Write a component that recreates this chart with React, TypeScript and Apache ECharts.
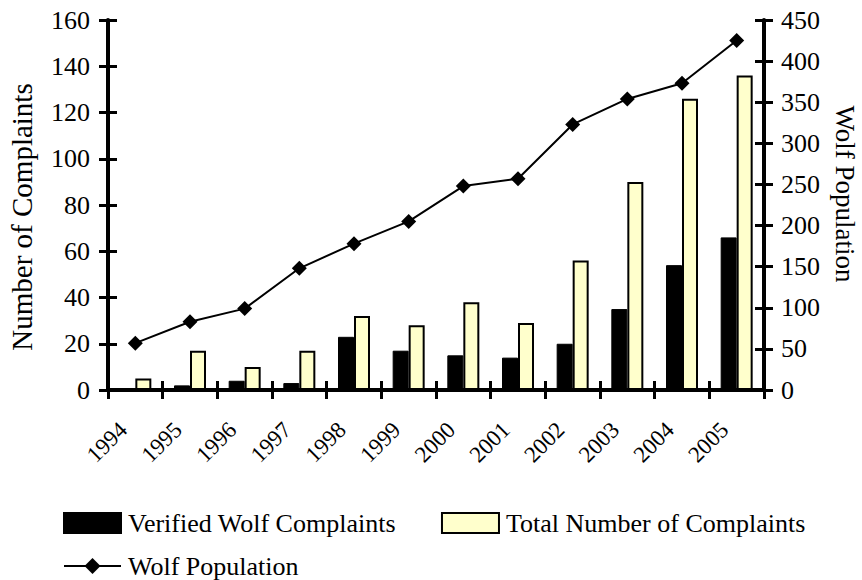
import React, { useEffect, useRef } from "react";
import * as echarts from "echarts";

const years = ["1994","1995","1996","1997","1998","1999","2000","2001","2002","2003","2004","2005"];
const verified = [0, 2, 4, 3, 23, 17, 15, 14, 20, 35, 54, 66];
const total = [5, 17, 10, 17, 32, 28, 38, 29, 56, 90, 126, 136];
const wolfPop = [57, 83, 99, 148, 178, 205, 248, 257, 323, 354, 373, 425];

const FONT = "'Liberation Serif', 'Times New Roman', serif";

export default function App() {
  const ref = useRef<HTMLDivElement>(null);
  useEffect(() => {
    if (!ref.current) return;
    const chart = echarts.init(ref.current, null, { renderer: "svg" });
    const txt = { color: "#000", fontFamily: FONT, fontSize: 25 };
    const line = { show: true, lineStyle: { color: "#000", width: 4 } };
    const tickOut = { show: true, inside: false, length: 9, lineStyle: { color: "#000", width: 3 } };
    const tickIn = { show: true, inside: true, length: 9, lineStyle: { color: "#000", width: 3 } };
    chart.setOption({
      animation: false,
      backgroundColor: "#fff",
      grid: { left: 108, right: 98, top: 20, bottom: 190, containLabel: false, outerBoundsMode: "none" },
      legend: [
        {
          data: ["Verified Wolf Complaints", "Total Number of Complaints"],
          left: 58, top: 505, itemWidth: 57, itemHeight: 20, itemGap: 45,
          textStyle: { ...txt, fontSize: 26, padding: [0, 0, 0, 2] },
          icon: "rect",
        },
        {
          data: ["Wolf Population"],
          left: 58, top: 548, itemWidth: 57, itemHeight: 20,
          textStyle: { ...txt, fontSize: 26, padding: [0, 0, 0, 2] },
        },
      ],
      xAxis: [
        {
          type: "category", data: years, position: "bottom",
          axisLine: line, axisTick: tickOut,
          axisLabel: { ...txt, fontSize: 23, rotate: 45, margin: 24, interval: 0, padding: [0, 17, 0, 0] },
          splitLine: { show: false },
        },
        {
          type: "category", data: years, position: "bottom",
          axisLine: { show: false }, axisTick: tickIn,
          axisLabel: { show: false }, splitLine: { show: false },
        },
      ],
      yAxis: [
        {
          type: "value", min: 0, max: 160, interval: 20, position: "left",
          axisLine: line, axisTick: tickOut, splitLine: { show: false },
          axisLabel: { ...txt, fontSize: 26, margin: 18 },
          name: "Number of Complaints", nameLocation: "middle", nameGap: 72,
          nameRotate: 90, nameTextStyle: { ...txt, fontSize: 29, padding: [0, 24, 0, 0] },
        },
        {
          type: "value", min: 0, max: 450, interval: 50, position: "right",
          axisLine: line, axisTick: tickOut, splitLine: { show: false },
          axisLabel: { ...txt, fontSize: 26, margin: 17 },
          name: "Wolf Population", nameLocation: "middle", nameGap: 67,
          nameRotate: -90, nameTextStyle: { ...txt, fontSize: 27, padding: [0, 22, 0, 0] },
        },
        {
          type: "value", min: 0, max: 160, interval: 20, position: "left",
          axisLine: { show: false }, axisTick: tickIn, splitLine: { show: false },
          axisLabel: { show: false },
        },
        {
          type: "value", min: 0, max: 450, interval: 50, position: "right",
          axisLine: { show: false }, axisTick: tickIn, splitLine: { show: false },
          axisLabel: { show: false },
        },
      ],
      series: [
        {
          name: "Verified Wolf Complaints", type: "bar", data: verified,
          barWidth: 16, barGap: "0%",
          itemStyle: { color: "#000", borderColor: "#000", borderWidth: 1 },
        },
        {
          name: "Total Number of Complaints", type: "bar", data: total,
          barWidth: 16, barGap: "0%",
          itemStyle: { color: "#FFFFCC", borderColor: "#000", borderWidth: 2 },
        },
        {
          name: "Wolf Population", type: "line", yAxisIndex: 1, data: wolfPop,
          symbol: "diamond", symbolSize: 15,
          lineStyle: { color: "#000", width: 2 },
          itemStyle: { color: "#000" },
        },
      ],
    });
    return () => chart.dispose();
  }, []);
  return <div ref={ref} style={{ width: 862, height: 580, position: "absolute", left: 0, top: 0 }} />;
}
